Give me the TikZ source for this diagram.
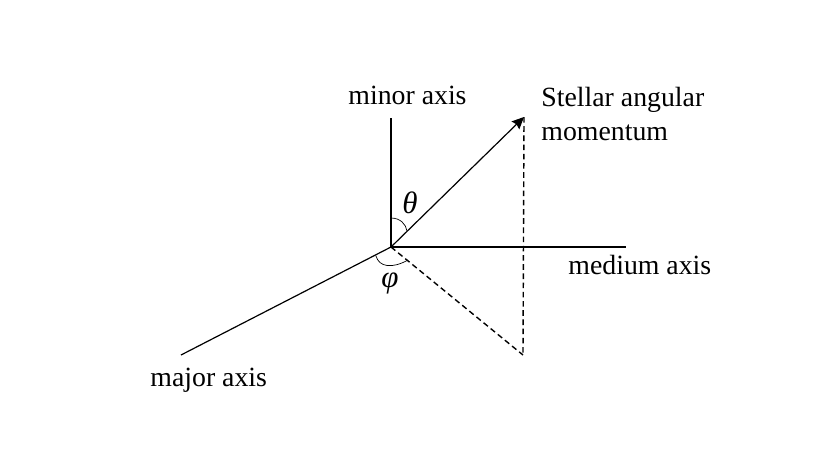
\documentclass[tikz,border=0pt]{standalone}
\usepackage{fontspec}
\setmainfont{Liberation Serif}
\usetikzlibrary{arrows.meta}
\tikzset{
  axislabel/.style={inner sep=0pt,anchor=base west,font=\fontsize{13.9pt}{16pt}\selectfont},
  anglelabel/.style={inner sep=0pt,font=\fontsize{15.5pt}{18pt}\selectfont\itshape},
  axisline/.style={line width=0.6pt},
  dashline/.style={line width=0.7pt,dash pattern=on 2.8pt off 1.8pt},
  anglearc/.style={line width=0.35pt}
}
\begin{document}
\begin{tikzpicture}[x=0.5pt,y=-0.5pt]
	\useasboundingbox (0,0) rectangle (830,467);
	\coordinate (O) at (391,247);
	\coordinate (AMinor) at (391,118);
	\coordinate (AMedium) at (626,247);
	\coordinate (AMajor) at (181,355);
	\coordinate (ATip) at (524,117);
	\coordinate (ABase) at (523,355);
	\coordinate (TA) at (391,218);
	\coordinate (TB) at (407,231);
	\coordinate (PA) at (376,256);
	\coordinate (PB) at (408,260);

	\node[axislabel] (Lminor) at (348,104) {minor axis};
	\node[axislabel] (Lstellar) at (541,106) {Stellar angular};
	\node[axislabel] (Lmoment) at (541,140) {momentum};
	\node[axislabel] (Lmedium) at (568,274) {medium axis};
	\node[axislabel] (Lmajor) at (150,386) {major axis};
	\node[anglelabel] (Ltheta) at (410,203) {θ};
	\node[anglelabel] (Lphi) at (390,283) {φ};

	\draw[axisline] (O)--(AMinor);
	\draw[axisline] (O)--(AMedium);
	\draw[axisline] (O)--(AMajor);
	\draw[axisline,-{Stealth[length=6pt,width=5.5pt,inset=0.8pt]}] (O)--(ATip);
	\draw[dashline] (O)--(ABase);
	\draw[dashline] (ATip)--(ABase);
	\draw[anglearc] (TA) .. controls (400,218) and (406,224) .. (TB);
	\draw[anglearc] (PA) .. controls (379,267) and (392,269) .. (PB);
\end{tikzpicture}
\end{document}
